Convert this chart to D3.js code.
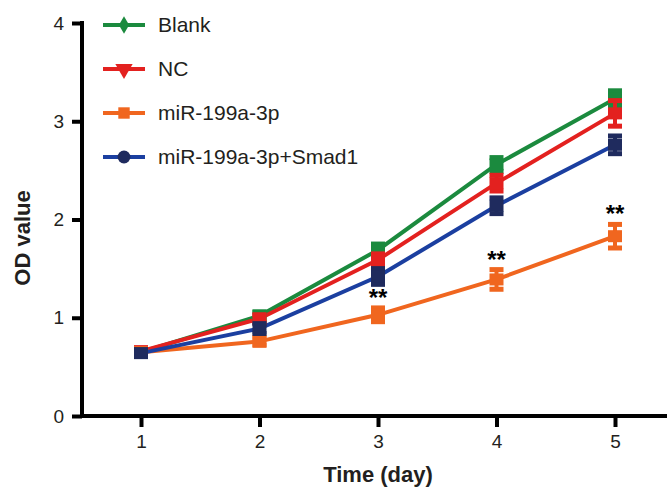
<!DOCTYPE html>
<html>
<head>
<meta charset="utf-8">
<script src="https://cdn.jsdelivr.net/npm/d3@7"></script>
<style>
  body { margin: 0; background: #fff; }
  text { font-family: "Liberation Sans", Arial, sans-serif; }
</style>
</head>
<body>
<svg width="667" height="487"></svg>
<script>
const days = [1, 2, 3, 4, 5];
const seriesNames = ['Blank', 'NC', 'miR-199a-3p', 'miR-199a-3p+Smad1'];
const blankMean = [0.65, 1.02, 1.69, 2.56, 3.23];
const blankErr = [0.03, 0.04, 0.06, 0.07, 0.08];
const ncMean = [0.66, 0.99, 1.59, 2.37, 3.08];
const ncErr = [0.03, 0.04, 0.06, 0.08, 0.13];
const mirMean = [0.65, 0.76, 1.03, 1.39, 1.83];
const mirErr = [0.03, 0.04, 0.07, 0.1, 0.12];
const smadMean = [0.64, 0.89, 1.42, 2.14, 2.76];
const smadErr = [0.03, 0.05, 0.08, 0.08, 0.09];
const yTicks = [0, 1, 2, 3, 4];
const sigDays = [3, 4, 5];

const svg = d3.select('svg');

const series = [
  { name: seriesNames[0], mean: blankMean, err: blankErr, line: '#1b8a3e', mark: '#1b8a3e', symbol: d3.symbolDiamond },
  { name: seriesNames[1], mean: ncMean, err: ncErr, line: '#e3211f', mark: '#e3211f', symbol: d3.symbolTriangle, flip: true },
  { name: seriesNames[2], mean: mirMean, err: mirErr, line: '#f0661f', mark: '#f0661f', symbol: d3.symbolSquare },
  { name: seriesNames[3], mean: smadMean, err: smadErr, line: '#1b3fa0', mark: '#1f2b5e', symbol: d3.symbolCircle }
];

const xScale = d3.scaleLinear().domain([1, 5]).range([141, 615]);
const yScale = d3.scaleLinear().domain([0, 4]).range([416, 23]);

// axes
const yAxis = d3.axisLeft(yScale).tickValues(yTicks).tickFormat(d3.format('d'))
    .tickSize(10).tickPadding(8).tickSizeOuter(0);
const xAxis = d3.axisBottom(xScale).tickValues(days).tickFormat(d3.format('d'))
    .tickSize(11).tickPadding(8).tickSizeOuter(0);

const yAxisG = svg.append('g')
    .attr('transform', 'translate(82,0)')
    .call(yAxis);
yAxisG.select('.domain').remove();
yAxisG.append('line')
    .attr('x1', 0).attr('x2', 0)
    .attr('y1', yScale(4) - 2).attr('y2', yScale(0) + 2)
    .attr('stroke', '#000').attr('stroke-width', 4);

const xAxisG = svg.append('g')
    .attr('transform', 'translate(0,416)')
    .call(xAxis);
xAxisG.select('.domain').remove();
xAxisG.append('line')
    .attr('x1', 80).attr('x2', 667)
    .attr('y1', 0).attr('y2', 0)
    .attr('stroke', '#000').attr('stroke-width', 4);

svg.selectAll('.tick line').attr('stroke', '#000').attr('stroke-width', 4);
svg.selectAll('.tick text')
    .attr('fill', '#231f20')
    .style('font-size', '19px')
    .style('font-family', '"Liberation Sans", Arial, sans-serif');

svg.append('text')
    .attr('x', 378).attr('y', 482)
    .attr('text-anchor', 'middle')
    .style('font-size', '22px').style('font-weight', 'bold')
    .attr('fill', '#231f20')
    .text('Time (day)');

svg.append('text')
    .attr('transform', 'translate(30,238) rotate(-90)')
    .attr('text-anchor', 'middle')
    .style('font-size', '22px').style('font-weight', 'bold')
    .attr('fill', '#231f20')
    .text('OD value');

// lines
const line = d3.line()
    .x((d, i) => xScale(days[i]))
    .y(d => yScale(d));

series.forEach(s => {
  svg.append('path')
      .datum(s.mean)
      .attr('fill', 'none')
      .attr('stroke', s.line)
      .attr('stroke-width', 4)
      .attr('d', line);
});

// error bars and markers
series.forEach(s => {
  const g = svg.append('g');
  days.forEach((day, i) => {
    const cx = xScale(day);
    const top = yScale(s.mean[i] + s.err[i]);
    const bot = yScale(s.mean[i] - s.err[i]);
    g.append('line')
        .attr('x1', cx).attr('x2', cx)
        .attr('y1', top).attr('y2', bot)
        .attr('stroke', s.mark).attr('stroke-width', 4);
    [top, bot].forEach(y => {
      g.append('rect')
          .attr('x', cx - 7).attr('y', y - 2.5)
          .attr('width', 14).attr('height', 5)
          .attr('fill', s.mark);
    });
    g.append('rect')
        .attr('x', cx - 7).attr('y', yScale(s.mean[i]) - 6)
        .attr('width', 14).attr('height', 12)
        .attr('fill', s.mark);
  });
});

// significance marks
svg.selectAll('.sig')
  .data(sigDays)
  .enter().append('text')
    .attr('class', 'sig')
    .attr('x', d => xScale(d))
    .attr('y', d => yScale(mirMean[d - 1] + mirErr[d - 1]) - 2)
    .attr('text-anchor', 'middle')
    .style('font-size', '24px').style('font-weight', 'bold')
    .attr('fill', '#000')
    .text('**');

// legend
const legend = svg.append('g');
series.forEach((s, i) => {
  const y = 25 + i * 44;
  legend.append('line')
      .attr('x1', 103).attr('x2', 145)
      .attr('y1', y).attr('y2', y)
      .attr('stroke', s.line).attr('stroke-width', 4);
  legend.append('path')
      .attr('d', d3.symbol().type(s.symbol).size(s.symbol === d3.symbolDiamond ? 90 : 130)())
      .attr('transform', `translate(124,${y})` + (s.flip ? ' rotate(180)' : ''))
      .attr('fill', s.mark);
  legend.append('text')
      .attr('x', 158).attr('y', y)
      .attr('dy', '0.35em')
      .style('font-size', '21px')
      .attr('fill', '#231f20')
      .text(s.name);
});
</script>
</body>
</html>
